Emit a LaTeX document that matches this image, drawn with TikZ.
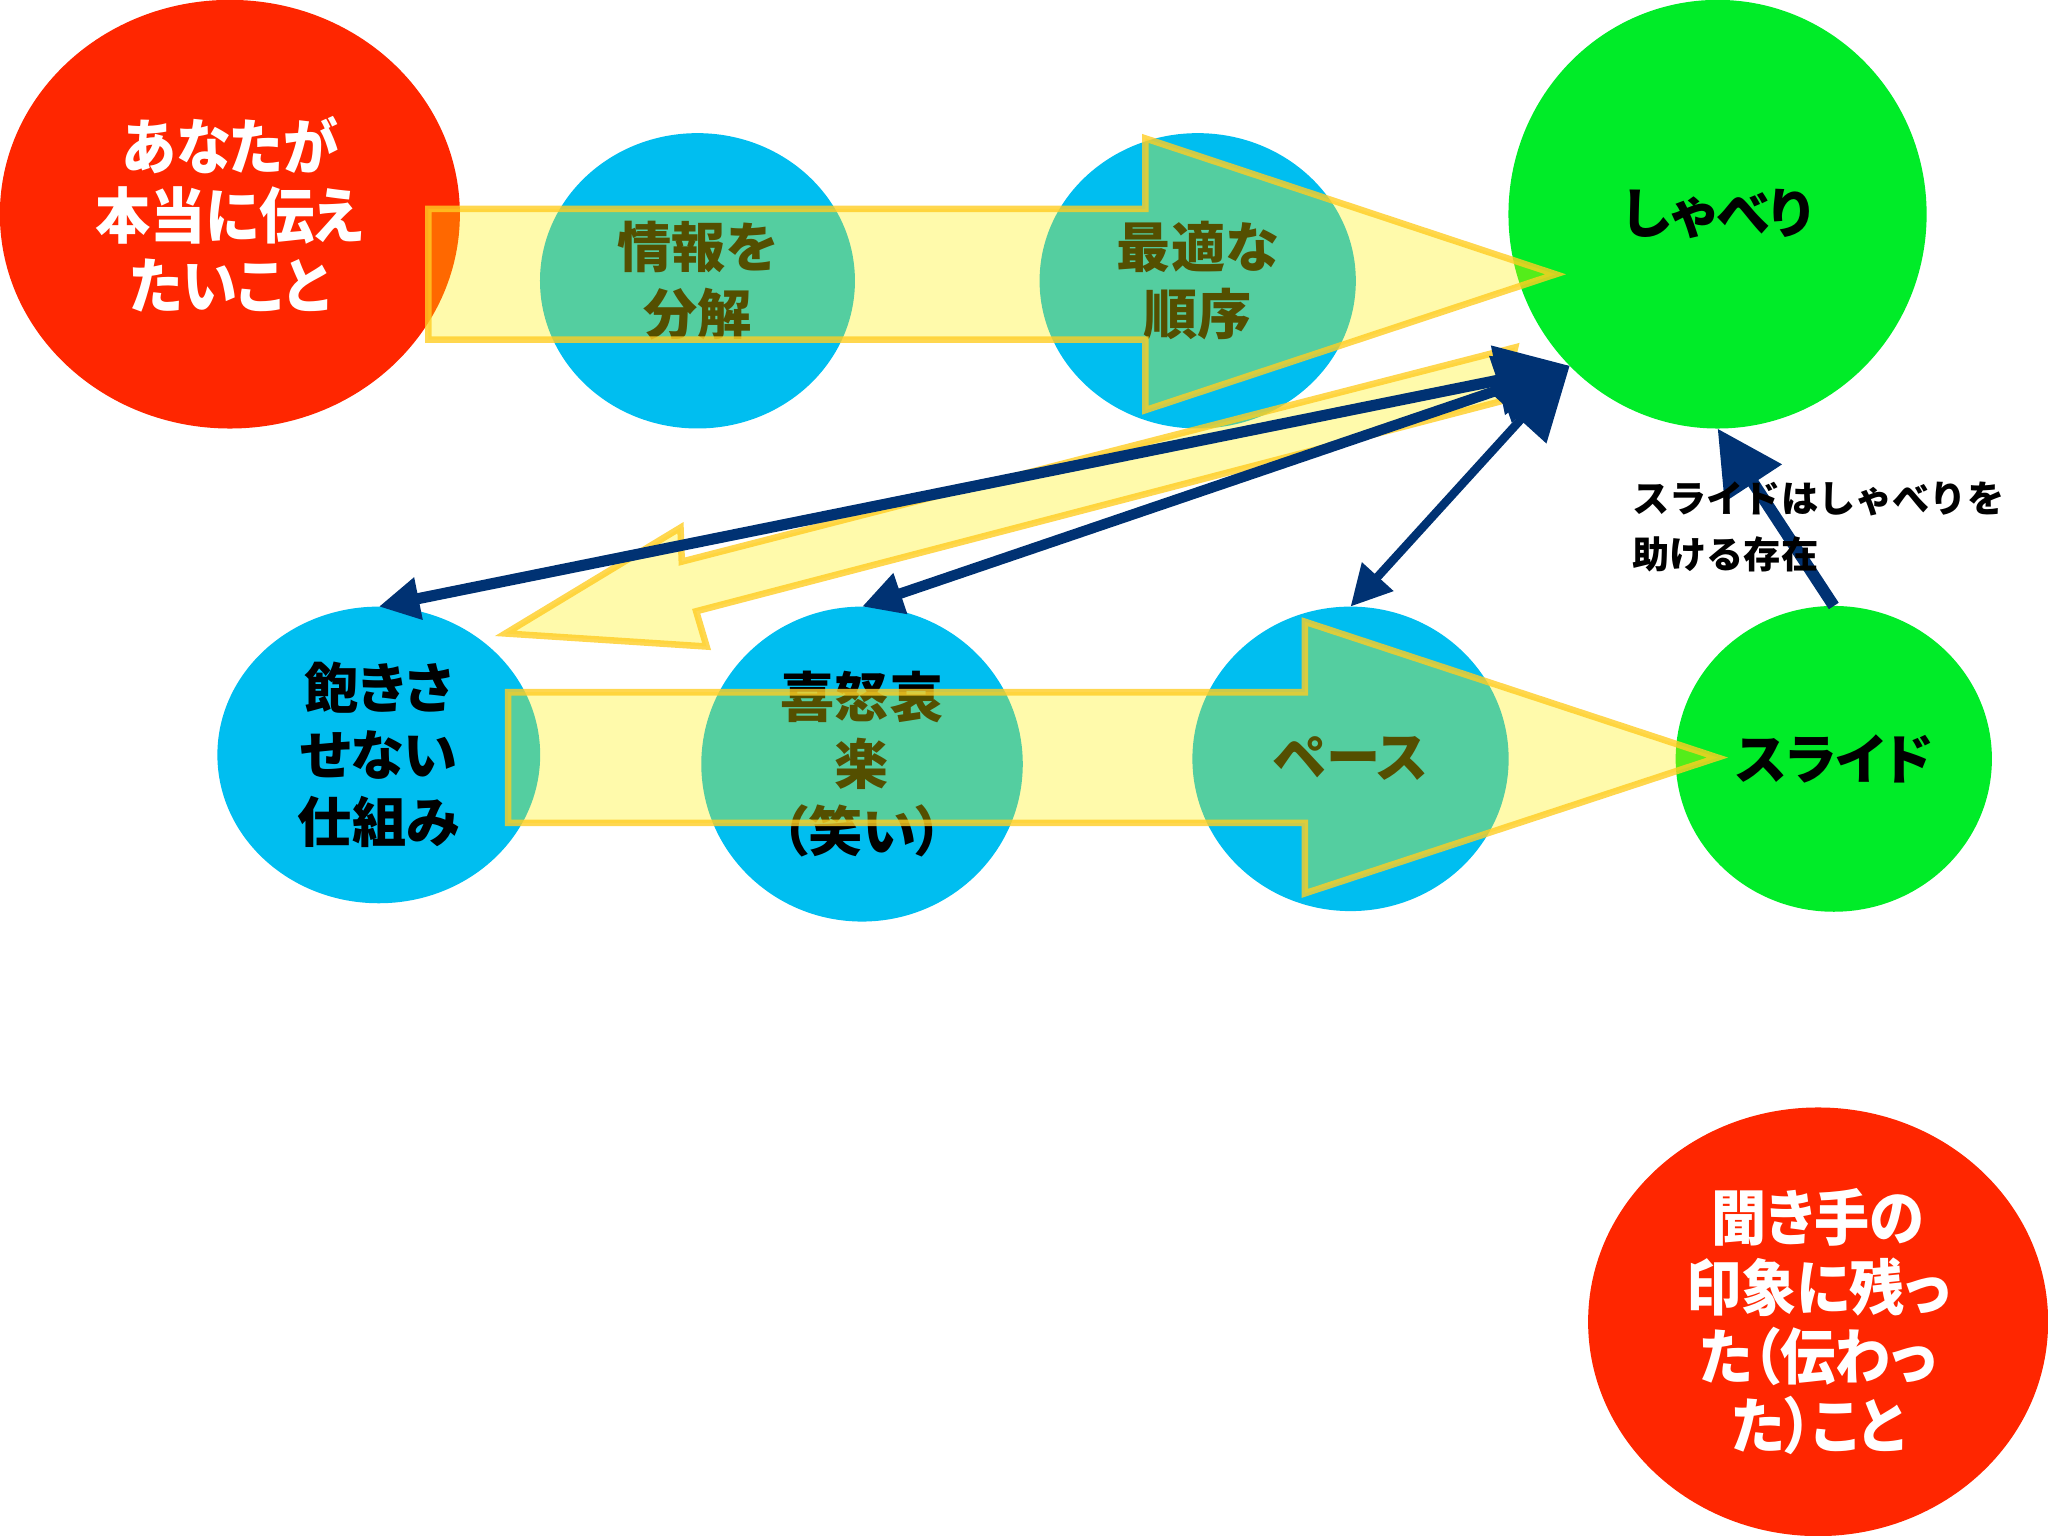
\documentclass[tikz,border=0pt]{standalone}
\usepackage{fontspec}
\newfontfamily\jpfont{Noto Sans CJK JP}
\newfontfamily\jpfuto{Noto Sans CJK JP Black}[RawFeature=+palt]
\newfontfamily\jpfutoaka{Noto Sans CJK JP Black}[RawFeature=+palt, FakeStretch=0.91]
\usetikzlibrary{shapes.geometric,arrows.meta}

\definecolor{aka}{RGB}{255,38,0}
\definecolor{ao}{RGB}{0,190,240}
\definecolor{midori}{RGB}{0,236,40}
\definecolor{kiiro}{RGB}{255,240,0}
\definecolor{kin}{RGB}{255,205,35}
\definecolor{kon}{RGB}{0,50,115}

\tikzset{
  maru/.style={ellipse, inner sep=0pt, outer sep=0pt, align=center,
    font=\jpfuto\fontsize{11.8}{14.6}\selectfont},
  akamaru/.style={maru, fill=aka, text=white,
    font=\jpfutoaka\fontsize{13.2}{15.1}\selectfont},
  aomaru/.style={maru, fill=ao},
  midorimaru/.style={maru, fill=midori},
  yajirushi/.style={fill=kiiro, fill opacity=0.33, draw=kin, draw opacity=0.8, line width=0.05cm},
  sen/.style={kon, line width=#1},
  ookii/.tip={Triangle[length=0.56cm, width=0.52cm]},
  chiisai/.tip={Triangle[length=0.31cm, width=0.31cm]}
}

\begin{document}
\begin{tikzpicture}[x=0.01cm, y=-0.01cm]
    \useasboundingbox (0,0) rectangle (1568,1176);

    % 円
    \node[akamaru, minimum width=3.52cm, minimum height=3.28cm] (tsutaetai) at (176,164) {あなたが\\本当に伝え\\たいこと};
    \node[aomaru, minimum width=2.41cm, minimum height=2.26cm] (bunkai) at (534,215) {情報を\\分解};
    \node[aomaru, minimum width=2.42cm, minimum height=2.26cm] (junjo) at (917,215) {最適な\\順序};
    \node[midorimaru, minimum width=3.20cm, minimum height=3.28cm] (shaberi) at (1315,164) {しゃべり};
    \node[aomaru, minimum width=2.47cm, minimum height=2.27cm] (akinai) at (290,578) {飽きさ\\せない\\仕組み};
    \node[aomaru, minimum width=2.46cm, minimum height=2.41cm] (kidoairaku) at (660,585) {喜怒哀\\楽\\（笑い）};
    \node[aomaru, minimum width=2.42cm, minimum height=2.33cm] (pace) at (1034,581) {ペース};
    \node[midorimaru, minimum width=2.42cm, minimum height=2.34cm] (slide) at (1404,581) {スライド};
    \node[akamaru, minimum width=3.52cm, minimum height=3.28cm] (tsutawatta) at (1392,1012) {聞き手の\\印象に残っ\\た（伝わっ\\た）こと};

    % 黄色の矢印
    \foreach \xa/\xb/\xt/\yc in {328/877/1191/210, 389/999/1315/580} {
        \draw[yajirushi] (\xa,\yc-50) -- (\xb,\yc-50) -- (\xb,\yc-104) -- (\xt,\yc)
            -- (\xb,\yc+104) -- (\xb,\yc+50) -- (\xa,\yc+50) -- cycle;
    }
    \draw[yajirushi] (1160,266) -- (522,430) -- (521,404) -- (387,485)
        -- (541,495) -- (533,468) -- (1150,307) -- cycle;

    % 紺の矢印
    \draw[sen=0.085cm, chiisai-ookii] (akinai.north) -- (shaberi.south west);
    \draw[sen=0.08cm, chiisai-ookii] (kidoairaku.north) -- (shaberi.south west);
    \draw[sen=0.065cm, chiisai-ookii] (pace.north) -- (shaberi.south west);
    \draw[sen=0.09cm, -{Triangle[length=0.5cm, width=0.5cm]}] (slide.north) -- (shaberi.south);

    \node[anchor=north west, align=left, inner sep=0pt,
        font=\jpfont\bfseries\fontsize{8.1}{12.2}\selectfont] (tasukeru) at (1249,368)
        {スライドはしゃべりを\\助ける存在};
\end{tikzpicture}
\end{document}
